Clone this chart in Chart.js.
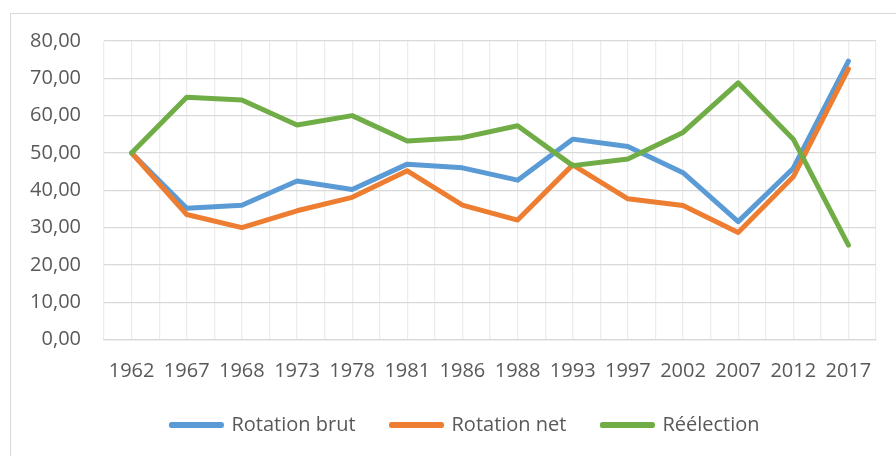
<!DOCTYPE html>
<html lang="fr">
<head>
<meta charset="utf-8">
<title>Rotation et réélection</title>
<script src="https://cdn.jsdelivr.net/npm/chart.js@4.4.1/dist/chart.umd.min.js"></script>
<style>
    html, body { margin: 0; padding: 0; background: #fff; overflow: hidden; }
    #cadre {
        position: absolute; left: 10px; top: 13px;
        width: 2000px; height: 2000px;
        border: 1.5px solid #d9d9d9;
    }
    #zone { position: absolute; left: 0; top: 0; width: 896px; height: 456px; }
</style>
</head>
<body>
<div id="cadre"></div>
<div id="zone"><canvas id="graphRotation"></canvas></div>
<script>
// =============================================
// Rotation brut / net et réélection (%)
// =============================================

const ANNEES = ['1962', '1967', '1968', '1973', '1978', '1981', '1986', '1988', '1993', '1997', '2002', '2007', '2012', '2017'];
const ROTATION_BRUT = [50.0, 35.2, 36.0, 42.5, 40.2, 47.0, 46.0, 42.7, 53.7, 51.7, 44.7, 31.6, 45.9, 74.6];
const ROTATION_NET = [50.0, 33.5, 30.0, 34.5, 38.1, 45.2, 36.0, 32.0, 46.8, 37.7, 35.9, 28.7, 43.6, 72.5];
const REELECTION = [50.0, 64.9, 64.2, 57.5, 60.0, 53.2, 54.1, 57.3, 46.6, 48.4, 55.5, 68.8, 53.7, 25.3];
const Y_TICKS = [0, 10, 20, 30, 40, 50, 60, 70, 80];

const TEXTE = '#595959';
const POLICE = { family: '"Open Sans", "Noto Sans", sans-serif', size: 20 };

function enPoints(valeurs) {
    return valeurs.map((v, i) => ({ x: i, y: v }));
}

function serie(label, valeurs, couleur, ordre) {
    return {
        label,
        data: enPoints(valeurs),
        borderColor: couleur,
        backgroundColor: couleur,
        borderWidth: 5,
        borderCapStyle: 'round',
        borderJoinStyle: 'round',
        pointRadius: 0,
        tension: 0,
        order: ordre
    };
}

// La légende d'Excel est centrée un peu plus à droite que la zone totale
const decalageLegende = {
    id: 'decalageLegende',
    afterLayout(chart) {
        if (chart.legend) chart.legend.left = 50;
    }
};

const ctx = document.getElementById('graphRotation');
new Chart(ctx, {
    type: 'line',
    data: {
        datasets: [
            serie('Rotation brut', ROTATION_BRUT, '#5B9BD5', 3),
            serie('Rotation net', ROTATION_NET, '#ED7D31', 2),
            serie('Réélection', REELECTION, '#70AD47', 1)
        ]
    },
    plugins: [decalageLegende],
    options: {
        responsive: true,
        maintainAspectRatio: false,
        animation: false,
        layout: { padding: { left: 0, right: 15, top: 41, bottom: 17 } },
        plugins: {
            tooltip: { enabled: false },
            legend: {
                position: 'bottom',
                maxHeight: 60,
                labels: {
                    color: TEXTE,
                    font: POLICE,
                    boxWidth: 50,
                    boxHeight: 1,
                    padding: 36,
                    sort: (a, b) => a.datasetIndex - b.datasetIndex
                }
            }
        },
        scales: {
            x: {
                type: 'linear',
                min: -0.5,
                max: ANNEES.length - 0.5,
                afterFit: s => { s.height = 39.5; },
                border: { color: '#d9d9d9', width: 1.25 },
                grid: { color: '#ececec', lineWidth: 1.25, drawTicks: false },
                ticks: {
                    stepSize: 0.5,
                    autoSkip: false,
                    maxRotation: 0,
                    padding: 20,
                    color: TEXTE,
                    font: POLICE,
                    callback: v => Number.isInteger(v) ? ANNEES[v] : ''
                }
            },
            y: {
                min: Y_TICKS[0],
                max: Y_TICKS[Y_TICKS.length - 1],
                afterFit: s => { s.width = 104; },
                border: { display: false },
                grid: { color: '#d9d9d9', lineWidth: 1.25, drawTicks: false },
                ticks: {
                    stepSize: 10,
                    padding: 23,
                    color: TEXTE,
                    font: POLICE,
                    callback: v => v.toFixed(2).replace('.', ',')
                }
            }
        }
    }
});
</script>
</body>
</html>
